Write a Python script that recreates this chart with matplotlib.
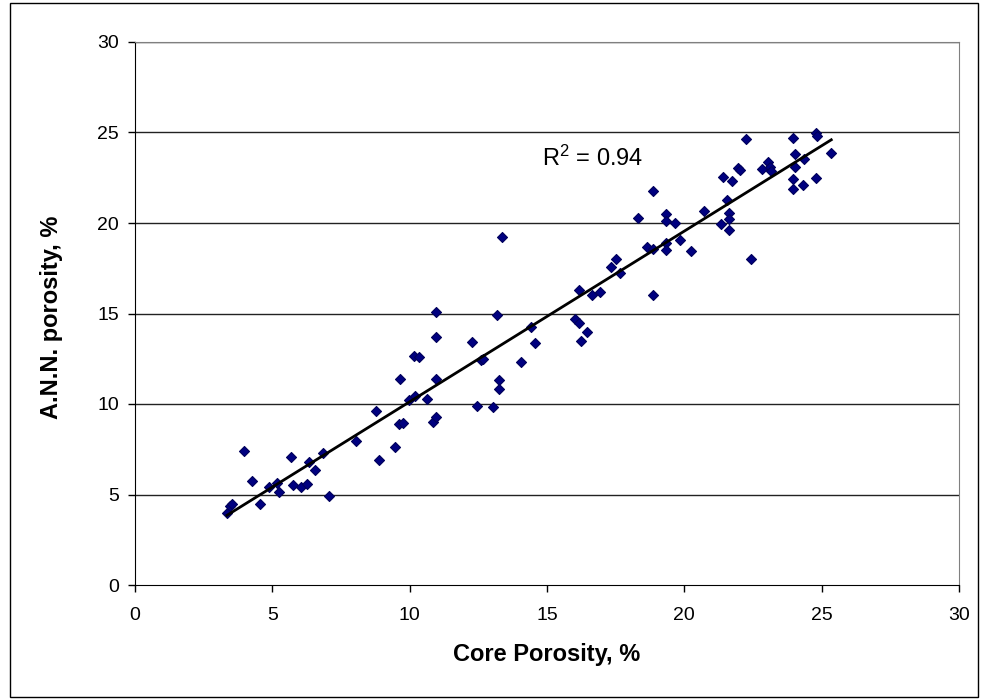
import matplotlib
matplotlib.use("Agg")
import matplotlib.pyplot as plt
import matplotlib.patches as mpatches
import numpy as np

plt.rcParams['font.family'] = ['Liberation Sans', 'DejaVu Sans']
plt.rcParams['mathtext.fontset'] = 'custom'
plt.rcParams['mathtext.rm'] = 'Liberation Sans'
plt.rcParams['mathtext.it'] = 'Liberation Sans:italic'
plt.rcParams['mathtext.bf'] = 'Liberation Sans:bold'

core_porosity = [3.35, 3.46, 3.53, 3.97, 4.26, 4.55, 4.87, 5.16, 5.24, 5.67, 5.75, 6.04, 6.25, 6.33,
                 6.55, 6.84, 7.07, 8.05, 8.77, 8.87, 9.45, 9.62, 9.75, 9.65, 9.96, 10.18, 10.16, 10.35,
                 10.64, 10.86, 10.96, 10.96, 10.96, 10.96, 12.27, 12.44, 12.61, 12.68, 13.04, 13.17,
                 13.26, 13.26, 13.36, 14.04, 14.43, 14.55, 16.03, 16.15, 16.22, 16.44, 16.15, 16.64,
                 16.93, 17.32, 17.53, 17.66, 18.31, 18.63, 18.85, 18.85, 18.87, 19.33, 19.33, 19.33,
                 19.33, 19.65, 19.86, 20.25, 20.71, 21.34, 21.42, 21.54, 21.63, 21.63, 21.63, 21.73,
                 21.95, 22.02, 22.24, 22.41, 22.83, 23.04, 23.12, 23.14, 23.94, 23.94, 23.94, 24.04,
                 24.04, 24.33, 24.35, 24.81, 24.84, 24.81, 25.35]
ann_porosity = [3.99, 4.36, 4.48, 7.40, 5.75, 4.48, 5.43, 5.64, 5.14, 7.09, 5.52, 5.41, 5.58, 6.80,
                6.35, 7.31, 4.92, 7.96, 9.63, 6.91, 7.64, 8.88, 8.95, 11.40, 10.22, 10.44, 12.65, 12.58,
                10.26, 9.00, 9.26, 11.36, 13.68, 15.08, 13.43, 9.89, 12.43, 12.50, 9.82, 14.90,
                11.33, 10.85, 19.23, 12.32, 14.27, 13.35, 14.68, 14.46, 13.50, 13.98, 16.30, 16.01,
                16.19, 17.55, 18.03, 17.26, 20.28, 18.66, 18.58, 21.75, 16.01, 20.50, 20.13, 18.88,
                18.51, 20.02, 19.06, 18.44, 20.65, 19.94, 22.56, 21.27, 20.57, 20.20, 19.61, 22.34,
                23.04, 22.93, 24.62, 17.99, 23.00, 23.37, 23.11, 22.89, 24.70, 22.45, 21.90, 23.81,
                23.08, 22.12, 23.55, 24.96, 24.81, 22.49, 23.89]
r2_text = "R$^2$ = 0.94"
ticks = [0, 5, 10, 15, 20, 25, 30]

x = np.array(core_porosity)
y = np.array(ann_porosity)

W, H = 981, 700
fig = plt.figure(figsize=(W / 100, H / 100), dpi=100)
ax = fig.add_axes([135 / W, 1 - 585 / H, (959 - 135) / W, (585 - 42) / H])

ax.set_xlim(0, 30)
ax.set_ylim(0, 30)
ax.set_xticks(ticks)
ax.set_yticks(ticks)
ax.tick_params(direction='out', length=5, width=1, labelsize=14, color='black')
ax.tick_params(axis='x', pad=10.5)
ax.tick_params(axis='y', pad=6.5)
for yy in ticks[1:]:
    ax.axhline(yy, color='#222222', lw=1, zorder=1)

ax.scatter(x, y, marker='D', s=26, color='#000080', edgecolors='#00005a', linewidths=0.8, zorder=3)

m, b = np.polyfit(x, y, 1)
xl = np.array([x.min(), x.max()])
ax.plot(xl, m * xl + b, color='black', lw=2, zorder=4)

ax.text(14.8, 23.15, r2_text, fontsize=17, ha='left', va='baseline')

for s in ['left', 'bottom']:
    ax.spines[s].set_color('black')
for s in ['top', 'right']:
    ax.spines[s].set_color('#808080')

fig.text(547 / W, 1 - 661 / H, 'Core Porosity, %', fontsize=17, fontweight='bold',
         ha='center', va='baseline')
fig.text(52 / W, 1 - 317 / H, 'A.N.N. porosity, %', fontsize=17, fontweight='bold',
         ha='center', va='center', rotation=90)

fig.patches.append(mpatches.Rectangle((10 / W, 3 / H), (978 - 10) / W, (697 - 3) / H,
                                      transform=fig.transFigure, fill=False, edgecolor='black', lw=1))

fig.savefig('out.png', dpi=100)
